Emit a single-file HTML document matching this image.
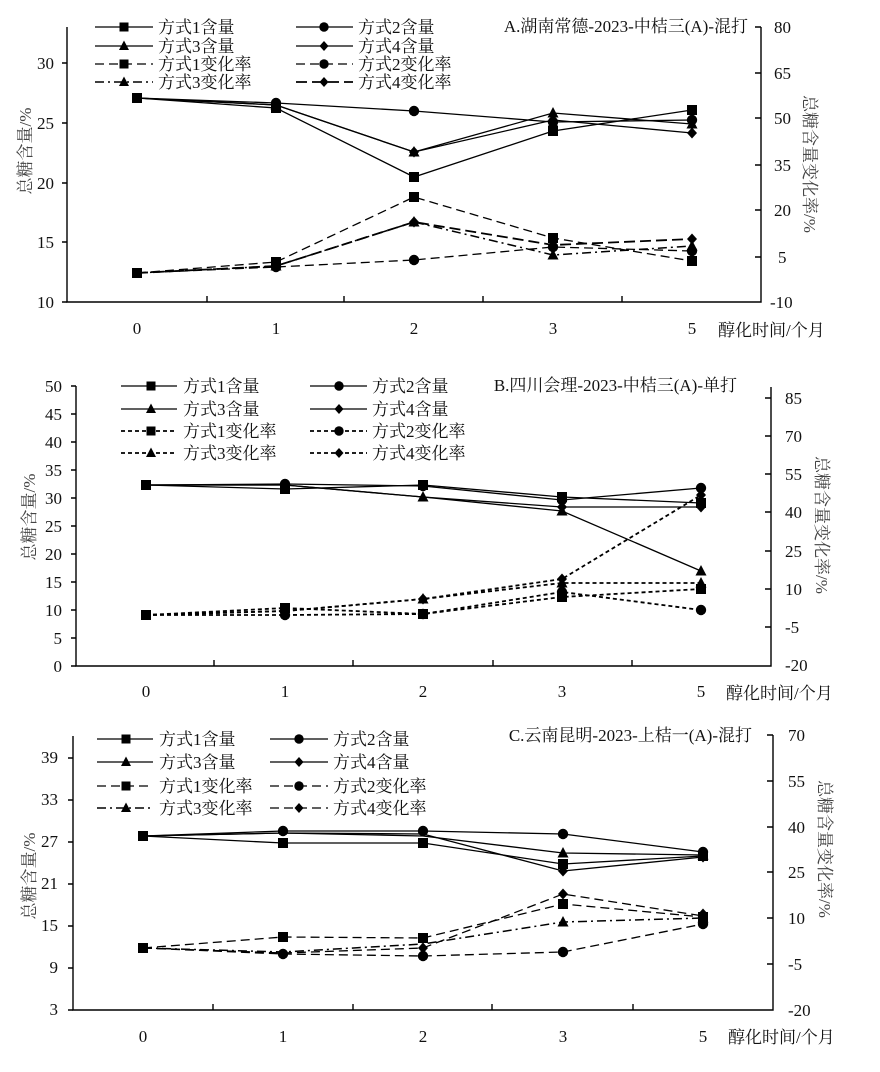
<!DOCTYPE html>
<html><head><meta charset="utf-8"><style>
html,body{margin:0;padding:0;background:#fff;}
svg{display:block;}
text{font-family:"Liberation Serif","Noto Serif CJK SC",serif;fill:#111;}
.t{font-size:17px;}
.lg{font-size:17px;fill:#222;}
.ax{font-size:17px;fill:#444;}
.c{fill:none;stroke:#000;stroke-width:1.3;}
.r1{fill:none;stroke:#000;stroke-width:1.3;stroke-dasharray:9,5;}
.r3{fill:none;stroke:#000;stroke-width:1.5;stroke-dasharray:9,4,2,4;}
.r4{fill:none;stroke:#000;stroke-width:1.8;stroke-dasharray:11,5;}
.d{fill:none;stroke:#000;stroke-width:1.8;stroke-dasharray:4,3;}
.a{stroke:#000;stroke-width:1.4;fill:none;}
</style></head><body>
<svg width="880" height="1072" viewBox="0 0 880 1072" xmlns="http://www.w3.org/2000/svg">
<defs>
<rect id="sq" x="-5" y="-5" width="10" height="10" fill="#000"/>
<circle id="ci" r="5.2" fill="#000"/>
<polygon id="tr" points="0,-6 5.5,4.5 -5.5,4.5" fill="#000"/>
<polygon id="di" points="0,-5.5 5,0 0,5.5 -5,0" fill="#000"/>
<rect id="sqs" x="-4.5" y="-4.5" width="9" height="9" fill="#000"/>
<circle id="cis" r="4.7" fill="#000"/>
<polygon id="trs" points="0,-5.5 5,4 -5,4" fill="#000"/>
<polygon id="dis" points="0,-5 4.5,0 0,5 -4.5,0" fill="#000"/>
</defs>

<!-- ================= PANEL A ================= -->
<g>
<path class="a" d="M67,27 V302 H761 V27"/>
<path class="a" d="M62,63 H67 M62,123 H67 M62,183 H67 M62,242 H67 M62,302 H67"/>
<path class="a" d="M755,27 H761 M755,73 H761 M755,118 H761 M755,165 H761 M755,210 H761 M755,257 H761"/>
<path class="a" d="M207,302 V296 M344,302 V296 M483,302 V296 M622,302 V296"/>
<g class="t" text-anchor="end">
<text x="54" y="69">30</text><text x="54" y="129">25</text><text x="54" y="189">20</text><text x="54" y="248">15</text><text x="54" y="308">10</text>
</g>
<g class="t">
<text x="774" y="33">80</text><text x="774" y="79">65</text><text x="774" y="124">50</text><text x="774" y="171">35</text><text x="774" y="216">20</text><text x="778" y="263">5</text><text x="770" y="308">-10</text>
</g>
<g class="t" text-anchor="middle">
<text x="137" y="334">0</text><text x="276" y="334">1</text><text x="414" y="334">2</text><text x="553" y="334">3</text><text x="692" y="334">5</text>
</g>
<text class="t" x="718" y="336">醇化时间/个月</text>
<text class="t" x="748" y="32" text-anchor="end">A.湖南常德-2023-中桔三(A)-混打</text>
<text class="ax" transform="translate(31,151) rotate(-90)" text-anchor="middle">总糖含量/%</text>
<text class="ax" transform="translate(804,164) rotate(90)" text-anchor="middle">总糖含量变化率/%</text>
<path class="c" d="M95,27 H153 M296,27 H353 M95,46 H153 M296,46 H353"/>
<path class="r1" d="M95,64 H153 M296,64 H353"/>
<path class="r3" d="M95,82 H153"/>
<path class="r4" d="M296,82 H353"/>
<use href="#sqs" x="124" y="27"/><use href="#cis" x="324" y="27"/>
<use href="#trs" x="124" y="46"/><use href="#dis" x="324" y="46"/>
<use href="#sqs" x="124" y="64"/><use href="#cis" x="324" y="64"/>
<use href="#trs" x="124" y="82"/><use href="#dis" x="324" y="82"/>
<g class="lg">
<text x="158" y="33">方式1含量</text><text x="358" y="33">方式2含量</text>
<text x="158" y="52">方式3含量</text><text x="358" y="52">方式4含量</text>
<text x="158" y="70">方式1变化率</text><text x="358" y="70">方式2变化率</text>
<text x="158" y="88">方式3变化率</text><text x="358" y="88">方式4变化率</text>
</g>
<polyline class="c" points="137,98 276,108 414,177 553,131 692,110"/>
<polyline class="c" points="137,98 276,103 414,111 553,122 692,120"/>
<polyline class="c" points="137,98 276,105 414,152 553,113 692,124"/>
<polyline class="c" points="137,98 276,105 414,152 553,120 692,133"/>
<polyline class="r1" points="137,273 276,262 414,197 553,238 692,261"/>
<polyline class="r1" points="137,273 276,267 414,260 553,247 692,251"/>
<polyline class="r3" points="137,273 276,266 414,222 553,255 692,246"/>
<polyline class="r4" points="137,273 276,266 414,222 553,245 692,239"/>
<g>
<use href="#sq" x="137" y="98"/><use href="#sq" x="276" y="108"/><use href="#sq" x="414" y="177"/><use href="#sq" x="553" y="131"/><use href="#sq" x="692" y="110"/>
<use href="#ci" x="276" y="103"/><use href="#ci" x="414" y="111"/><use href="#ci" x="553" y="122"/><use href="#ci" x="692" y="120"/>
<use href="#tr" x="276" y="105"/><use href="#tr" x="414" y="152"/><use href="#tr" x="553" y="113"/><use href="#tr" x="692" y="124"/>
<use href="#di" x="414" y="152"/><use href="#di" x="553" y="126"/><use href="#di" x="692" y="133"/>
<use href="#sq" x="137" y="273"/><use href="#sq" x="276" y="262"/><use href="#sq" x="414" y="197"/><use href="#sq" x="553" y="238"/><use href="#sq" x="692" y="261"/>
<use href="#ci" x="276" y="267"/><use href="#ci" x="414" y="260"/><use href="#ci" x="553" y="247"/><use href="#ci" x="692" y="251"/>
<use href="#tr" x="276" y="266"/><use href="#tr" x="414" y="222"/><use href="#tr" x="553" y="255"/><use href="#tr" x="692" y="246"/>
<use href="#di" x="414" y="222"/><use href="#di" x="553" y="245"/><use href="#di" x="692" y="239"/>
</g>
</g>

<!-- ================= PANEL B ================= -->
<g>
<path class="a" d="M76,386 V666 H771 V387"/>
<path class="a" d="M71,386 H76 M71,414 H76 M71,442 H76 M71,470 H76 M71,498 H76 M71,526 H76 M71,554 H76 M71,582 H76 M71,610 H76 M71,638 H76 M71,666 H76"/>
<path class="a" d="M765,398 H771 M765,436 H771 M765,474 H771 M765,512 H771 M765,551 H771 M765,589 H771 M765,627 H771"/>
<path class="a" d="M214,666 V660 M353,666 V660 M493,666 V660 M632,666 V660"/>
<g class="t" text-anchor="end">
<text x="62" y="392">50</text><text x="62" y="420">45</text><text x="62" y="448">40</text><text x="62" y="476">35</text><text x="62" y="504">30</text><text x="62" y="532">25</text><text x="62" y="560">20</text><text x="62" y="588">15</text><text x="62" y="616">10</text><text x="62" y="644">5</text><text x="62" y="672">0</text>
</g>
<g class="t">
<text x="785" y="404">85</text><text x="785" y="442">70</text><text x="785" y="480">55</text><text x="785" y="518">40</text><text x="785" y="557">25</text><text x="785" y="595">10</text><text x="785" y="633">-5</text><text x="785" y="671">-20</text>
</g>
<g class="t" text-anchor="middle">
<text x="146" y="697">0</text><text x="285" y="697">1</text><text x="423" y="697">2</text><text x="562" y="697">3</text><text x="701" y="697">5</text>
</g>
<text class="t" x="726" y="699">醇化时间/个月</text>
<text class="t" x="737" y="391" text-anchor="end">B.四川会理-2023-中桔三(A)-单打</text>
<text class="ax" transform="translate(35,517) rotate(-90)" text-anchor="middle">总糖含量/%</text>
<text class="ax" transform="translate(816,525) rotate(90)" text-anchor="middle">总糖含量变化率/%</text>
<path class="c" d="M121,386 H177 M310,386 H367 M121,409 H177 M310,409 H367"/>
<path class="d" d="M121,431 H177 M310,431 H367 M121,453 H177 M310,453 H367"/>
<use href="#sqs" x="151" y="386"/><use href="#cis" x="339" y="386"/>
<use href="#trs" x="151" y="409"/><use href="#dis" x="339" y="409"/>
<use href="#sqs" x="151" y="431"/><use href="#cis" x="339" y="431"/>
<use href="#trs" x="151" y="453"/><use href="#dis" x="339" y="453"/>
<g class="lg">
<text x="183" y="392">方式1含量</text><text x="372" y="392">方式2含量</text>
<text x="183" y="415">方式3含量</text><text x="372" y="415">方式4含量</text>
<text x="183" y="437">方式1变化率</text><text x="372" y="437">方式2变化率</text>
<text x="183" y="459">方式3变化率</text><text x="372" y="459">方式4变化率</text>
</g>
<polyline class="c" points="146,485 285,489 423,485 562,497 701,503"/>
<polyline class="c" points="146,485 285,484 423,486 562,500 701,488"/>
<polyline class="c" points="146,485 285,485 423,497 562,511 701,571"/>
<polyline class="c" points="146,485 285,485 423,497 562,507 701,507"/>
<polyline class="d" points="146,615 285,608 423,614 562,597 701,589"/>
<polyline class="d" points="146,615 285,615 423,614 562,592 701,610"/>
<polyline class="d" points="146,615 285,611 423,599 562,583 701,583"/>
<polyline class="d" points="146,615 285,611 423,599 562,579 701,495"/>
<g>
<use href="#sq" x="146" y="485"/><use href="#sq" x="285" y="489"/><use href="#sq" x="423" y="485"/><use href="#sq" x="562" y="497"/><use href="#sq" x="701" y="503"/>
<use href="#ci" x="285" y="484"/><use href="#ci" x="423" y="486"/><use href="#ci" x="562" y="500"/><use href="#ci" x="701" y="488"/>
<use href="#tr" x="423" y="497"/><use href="#tr" x="562" y="511"/><use href="#tr" x="701" y="571"/>
<use href="#di" x="562" y="507"/><use href="#di" x="701" y="507"/>
<use href="#sq" x="146" y="615"/><use href="#sq" x="285" y="608"/><use href="#sq" x="423" y="614"/><use href="#sq" x="562" y="597"/><use href="#sq" x="701" y="589"/>
<use href="#ci" x="285" y="615"/><use href="#ci" x="423" y="614"/><use href="#ci" x="562" y="592"/><use href="#ci" x="701" y="610"/>
<use href="#tr" x="423" y="599"/><use href="#tr" x="562" y="583"/><use href="#tr" x="701" y="583"/>
<use href="#di" x="423" y="599"/><use href="#di" x="562" y="579"/><use href="#di" x="701" y="495"/>
</g>
</g>

<!-- ================= PANEL C ================= -->
<g>
<path class="a" d="M73,736 V1010 H773 V735"/>
<path class="a" d="M68,758 H73 M68,800 H73 M68,842 H73 M68,884 H73 M68,926 H73 M68,968 H73 M68,1010 H73"/>
<path class="a" d="M767,735 H773 M767,781 H773 M767,827 H773 M767,872 H773 M767,918 H773 M767,964 H773"/>
<path class="a" d="M213,1010 V1004 M353,1010 V1004 M492,1010 V1004 M633,1010 V1004"/>
<g class="t" text-anchor="end">
<text x="58" y="763">39</text><text x="58" y="805">33</text><text x="58" y="847">27</text><text x="58" y="889">21</text><text x="58" y="931">15</text><text x="58" y="973">9</text><text x="58" y="1015">3</text>
</g>
<g class="t">
<text x="788" y="741">70</text><text x="788" y="787">55</text><text x="788" y="833">40</text><text x="788" y="878">25</text><text x="788" y="924">10</text><text x="788" y="970">-5</text><text x="788" y="1016">-20</text>
</g>
<g class="t" text-anchor="middle">
<text x="143" y="1042">0</text><text x="283" y="1042">1</text><text x="423" y="1042">2</text><text x="563" y="1042">3</text><text x="703" y="1042">5</text>
</g>
<text class="t" x="728" y="1043">醇化时间/个月</text>
<text class="t" x="752" y="741" text-anchor="end">C.云南昆明-2023-上桔一(A)-混打</text>
<text class="ax" transform="translate(35,876) rotate(-90)" text-anchor="middle">总糖含量/%</text>
<text class="ax" transform="translate(819,849) rotate(90)" text-anchor="middle">总糖含量变化率/%</text>
<path class="c" d="M97,739 H153 M270,739 H328 M97,762 H153 M270,762 H328"/>
<path class="r1" d="M97,786 H153 M270,786 H328 M270,808 H328"/>
<path class="r3" d="M97,808 H153"/>
<use href="#sqs" x="126" y="739"/><use href="#cis" x="299" y="739"/>
<use href="#trs" x="126" y="762"/><use href="#dis" x="299" y="762"/>
<use href="#sqs" x="126" y="786"/><use href="#cis" x="299" y="786"/>
<use href="#trs" x="126" y="808"/><use href="#dis" x="299" y="808"/>
<g class="lg">
<text x="159" y="745">方式1含量</text><text x="333" y="745">方式2含量</text>
<text x="159" y="768">方式3含量</text><text x="333" y="768">方式4含量</text>
<text x="159" y="792">方式1变化率</text><text x="333" y="792">方式2变化率</text>
<text x="159" y="814">方式3变化率</text><text x="333" y="814">方式4变化率</text>
</g>
<polyline class="c" points="143,836 283,843 423,843 563,864 703,856"/>
<polyline class="c" points="143,836 283,831 423,831 563,834 703,852"/>
<polyline class="c" points="143,836 283,833 423,836 563,853 703,855"/>
<polyline class="c" points="143,836 283,833 423,834 563,871 703,857"/>
<polyline class="r1" points="143,948 283,937 423,938 563,904 703,917"/>
<polyline class="r1" points="143,948 283,954 423,956 563,952 703,924"/>
<polyline class="r3" points="143,948 283,952 423,944 563,922 703,918"/>
<polyline class="r1" points="143,948 283,953 423,948 563,894 703,916"/>
<g>
<use href="#sq" x="143" y="836"/><use href="#sq" x="283" y="843"/><use href="#sq" x="423" y="843"/><use href="#sq" x="563" y="864"/><use href="#sq" x="703" y="856"/>
<use href="#ci" x="283" y="831"/><use href="#ci" x="423" y="831"/><use href="#ci" x="563" y="834"/><use href="#ci" x="703" y="852"/>
<use href="#tr" x="563" y="853"/><use href="#tr" x="703" y="855"/>
<use href="#di" x="563" y="871"/><use href="#di" x="703" y="857"/>
<use href="#sq" x="143" y="948"/><use href="#sq" x="283" y="937"/><use href="#sq" x="423" y="938"/><use href="#sq" x="563" y="904"/><use href="#sq" x="703" y="917"/>
<use href="#ci" x="283" y="954"/><use href="#ci" x="423" y="956"/><use href="#ci" x="563" y="952"/><use href="#ci" x="703" y="924"/>
<use href="#tr" x="563" y="922"/><use href="#tr" x="703" y="918"/>
<use href="#di" x="423" y="948"/><use href="#di" x="563" y="894"/><use href="#di" x="703" y="914"/>
</g>
</g>
</svg>
</body></html>
